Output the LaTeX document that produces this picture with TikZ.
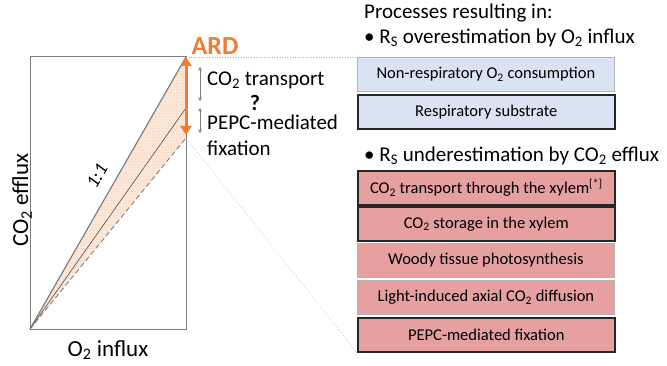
\documentclass[tikz,border=0pt]{standalone}
\usepackage{fontspec}
\setmainfont{Carlito}
\usetikzlibrary{arrows.meta,patterns}
\definecolor{ardorange}{HTML}{ED7D31}
\definecolor{boxblue}{HTML}{DAE3F3}
\definecolor{boxred}{HTML}{E6A0A0}
\definecolor{linegrey}{HTML}{7F7F7F}
\begin{document}
\begin{tikzpicture}[x=1pt,y=-1pt,
  procbox/.style={minimum width=257pt, minimum height=34pt, inner sep=0pt, anchor=north west, font=\fontsize{16.5}{19}\selectfont},
  thickbox/.style={procbox, draw=black!85, line width=1.6pt},
  thinbox/.style={procbox, draw=black!30, line width=0.8pt},
  bigtext/.style={font=\fontsize{21}{24}\selectfont, inner sep=0pt},
  headtext/.style={font=\fontsize{21}{24}\selectfont, inner sep=0pt, anchor=west},
  guide/.style={draw=black!30, dotted, line width=0.6pt},
  smallarrow/.style={draw=linegrey, line width=0.6pt, {Stealth[length=3.5pt,width=3.5pt]}-{Stealth[length=3.5pt,width=3.5pt]}}
]
\useasboundingbox (0,0) rectangle (667,366);

% plot coordinates
\coordinate (O) at (30,329);
\coordinate (TL) at (30,57);
\coordinate (TR) at (186,57);
\coordinate (BR) at (186,329);
\coordinate (M) at (186,108);
\coordinate (D) at (186,138);
\coordinate (ArTop) at (186,57);
\coordinate (ArBot) at (186,135);

% shaded region
\fill[ardorange!18] (O) -- (TR) -- (D) -- cycle;
\fill[pattern=dots, pattern color=ardorange!60] (O) -- (TR) -- (D) -- cycle;

% frame
\draw[linegrey, line width=1pt] (O) -- (TL) -- (TR) -- (BR) -- cycle;

% lines
\draw[linegrey, line width=1.2pt] (O) -- (TR);
\draw[black!70, line width=0.6pt] (O) -- (M);
\draw[linegrey, line width=0.9pt, dash pattern=on 5pt off 3pt] (O) -- (D);

% 1:1 label
\node[font=\itshape\fontsize{19}{22}\selectfont, rotate=60, inner sep=0pt] (ratio) at (97,176) {1:1};

% axis labels
\node[font=\fontsize{23}{26}\selectfont, inner sep=0pt, rotate=90] (ylab) at (22,200) {CO\textsubscript{2} efflux};
\node[font=\fontsize{23}{26}\selectfont, inner sep=0pt] (xlab) at (108,350) {O\textsubscript{2} influx};

% boxes
\node[thinbox, fill=boxblue] (b1) at (357,57) {Non-respiratory O\textsubscript{2} consumption};
\node[thickbox, fill=boxblue] (b2) at (357,94) {Respiratory substrate};
\node[thickbox, fill=boxred] (r1) at (357,170) {CO\textsubscript{2} transport through the xylem\textsuperscript{[*]}};
\node[thickbox, fill=boxred] (r2) at (357,206) {CO\textsubscript{2} storage in the xylem};
\node[thinbox, fill=boxred] (r3) at (357,243) {Woody tissue photosynthesis};
\node[thinbox, fill=boxred] (r4) at (357,280) {Light-induced axial CO\textsubscript{2} diffusion};
\node[thickbox, fill=boxred] (r5) at (357,317) {PEPC-mediated fixation};

% guide lines
\draw[guide] (TR) -- (b1.north west);
\draw[guide] (D) -- (r5.south west);

% ARD arrow
\draw[ardorange, line width=3pt, {Triangle[length=9pt,width=11pt]}-{Triangle[length=9pt,width=11pt]}] (ArTop) -- (ArBot);
\node[font=\bfseries\fontsize{26}{30}\selectfont, text=ardorange, inner sep=0pt] (ard) at (215,46) {ARD};

% small arrows
\coordinate (s1a) at (200,67);
\coordinate (s1b) at (200,101);
\coordinate (s2a) at (200,108);
\coordinate (s2b) at (200,133);
\draw[smallarrow] (s1a) -- (s1b);
\draw[smallarrow] (s2a) -- (s2b);

% labels
\node[bigtext, anchor=west] (t1) at (207,80) {CO\textsubscript{2} transport};
\node[bigtext, font=\bfseries\fontsize{22}{24}\selectfont] (q) at (255,103) {?};
\node[bigtext, anchor=west] (t2) at (207,122) {PEPC-mediated};
\node[bigtext, anchor=west] (t3) at (207,148) {fixation};

% headings
\node[headtext] (h1) at (364,13) {Processes resulting in:};
\node[headtext] (h2) at (364,38) {\textbullet\ R\textsubscript{S} overestimation by O\textsubscript{2} influx};
\node[headtext] (h3) at (364,156) {\textbullet\ R\textsubscript{S} underestimation by CO\textsubscript{2} efflux};
\end{tikzpicture}
\end{document}
